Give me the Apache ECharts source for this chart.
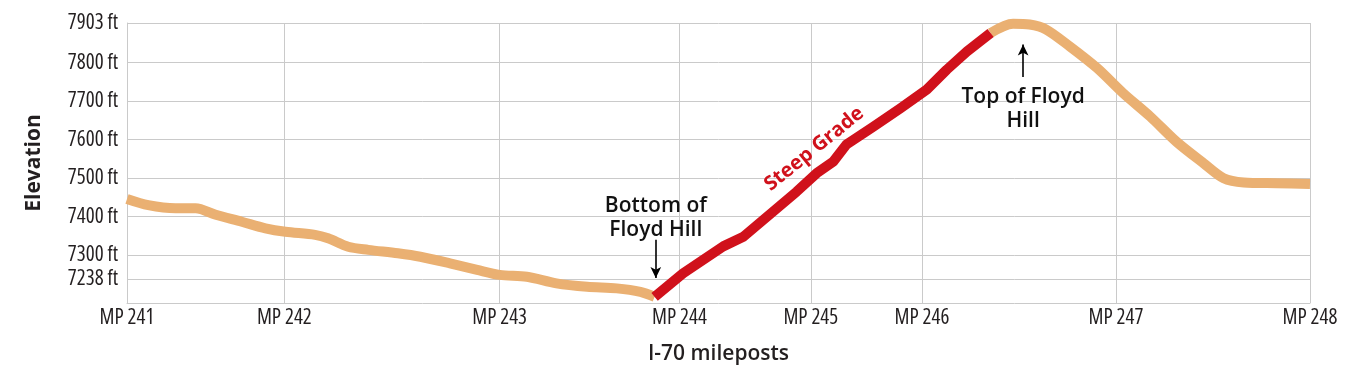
<!DOCTYPE html>
<html>
<head>
<meta charset="utf-8">
<script src="https://cdn.jsdelivr.net/npm/echarts@6/dist/echarts.min.js"></script>
<style>
  html, body { margin: 0; padding: 0; background: #ffffff; }
  #main { width: 1364px; height: 384px; }
</style>
</head>
<body>
<div id="main"></div>
<script>
// ---- Data (x = position along the profile, 0–100 % of the drawn route) ----
const mpLabels = ['MP 241', 'MP 242', 'MP 243', 'MP 244', 'MP 245', 'MP 246', 'MP 247', 'MP 248'];
const mpPositions = [0, 13.3, 31.5, 46.7, 57.8, 67.2, 83.6, 100];
const elevTicks = [7238, 7300, 7400, 7500, 7600, 7700, 7800, 7903];

const approachX    = [0, 1.8, 4.1, 5.8, 7.5, 9.7, 11.7, 13.4, 15.9, 17.0, 18.7, 20.4, 22.9, 24.8, 27.3, 29.6, 31.5, 33.8, 36.3, 38.9, 41.4, 43.4, 44.6];
const approachElev = [7446, 7430, 7422, 7422, 7405, 7387, 7370, 7361, 7353, 7344, 7322, 7314, 7305, 7296, 7279, 7262, 7249, 7244, 7227, 7218, 7214, 7205, 7192];

const steepX    = [44.6, 47.0, 50.4, 52.1, 54.6, 56.6, 58.3, 59.7, 60.8, 63.1, 65.4, 67.6, 69.3, 71.0, 73.0];
const steepElev = [7192, 7253, 7323, 7348, 7413, 7465, 7513, 7543, 7587, 7634, 7682, 7730, 7782, 7829, 7877];

const descentX    = [73.0, 74.9, 76.3, 77.7, 79.7, 82.0, 84.2, 86.5, 88.7, 91.0, 92.7, 94.4, 97.2, 100];
const descentElev = [7877, 7901, 7899, 7886, 7842, 7786, 7721, 7660, 7595, 7539, 7500, 7489, 7487, 7485];

const annotationTexts = ['Bottom of\nFloyd Hill', 'Top of Floyd\nHill', 'Steep Grade'];
const annotationX     = [44.7, 75.75, 58.1];
const annotationElev  = [7396, 7680, 7576];

const arrowX     = [44.7, 75.75];
const arrowFrom  = [7340, 7763];
const arrowTo    = [7241, 7847];

// ---- helpers ----
const zip = (xs, ys) => xs.map((x, i) => [x, ys[i]]);

// choose a condensed face for the tick labels
function pickCondensed() {
  const ctx = document.createElement('canvas').getContext('2d');
  const sample = 'MP 241';
  const stretchFams = ["'Open Sans'", "'Noto Sans'", "'DejaVu Sans'", "Roboto"];
  let best = null, bw = Infinity;
  for (const f of stretchFams) {
    ctx.font = '500 100px ' + f;
    const wn = ctx.measureText(sample).width;
    ctx.font = 'normal 500 condensed 100px ' + f;
    const wc = ctx.measureText(sample).width;
    if (wc < wn * 0.95 && wc < bw) { bw = wc; best = { family: f + ', sans-serif', weight: '500 condensed', w: wc }; }
  }
  if (!best) {
    const cands = ["'Liberation Sans Narrow'", "'DejaVu Sans Condensed'", "'Roboto Condensed'", "'Open Sans Condensed'", "Roboto", "Lato", "'Liberation Sans'"];
    for (const f of cands) {
      ctx.font = '100px ' + f + ', monospace';
      const w1 = ctx.measureText(sample).width;
      ctx.font = '100px ' + f + ', serif';
      const w2 = ctx.measureText(sample).width;
      if (Math.abs(w1 - w2) < 0.5 && w1 < bw) { bw = w1; best = { family: f + ', sans-serif', weight: 'normal', w: w1 }; }
    }
  }
  if (!best) best = { family: 'sans-serif', weight: 'normal', w: 340 };
  const size = Math.max(15, Math.min(21, 55 / best.w * 100));
  best.size = Math.round(size * 2) / 2;
  return best;
}
const cond = pickCondensed();
const BOLD = "'Open Sans', 'Noto Sans', sans-serif";
const GRID_COLOR = '#cacaca';
const ORANGE = '#EAB072';
const RED = '#D0111B';
const INK = '#231f20';

const chart = echarts.init(document.getElementById('main'), null, { renderer: 'canvas' });

const labelFont = { fontFamily: cond.family, fontStyle: 'normal', fontWeight: cond.weight, fontSize: cond.size, color: INK };

const option = {
  animation: false,
  backgroundColor: '#ffffff',
  grid: { left: 127, right: 54, top: 23, bottom: 81, containLabel: false },
  xAxis: {
    type: 'value',
    min: 0,
    max: 100,
    name: 'I-70 mileposts',
    nameLocation: 'middle',
    nameGap: 41,
    nameTextStyle: { fontFamily: BOLD, fontWeight: 600, fontSize: 21, color: INK },
    axisLine: { show: true, lineStyle: { color: GRID_COLOR, width: 1 } },
    axisTick: { show: false, customValues: mpPositions },
    axisLabel: Object.assign({
      customValues: mpPositions,
      formatter: (v) => { const i = mpPositions.indexOf(v); return i >= 0 ? mpLabels[i] : ''; },
      margin: 5
    }, labelFont),
    splitLine: { show: true, lineStyle: { color: GRID_COLOR, width: 1 } }
  },
  yAxis: {
    type: 'value',
    min: 7176,
    max: 7903,
    name: 'Elevation',
    nameLocation: 'middle',
    nameRotate: 90,
    nameGap: 82,
    nameTextStyle: { fontFamily: BOLD, fontWeight: 700, fontSize: 21, color: INK },
    axisLine: { show: true, lineStyle: { color: GRID_COLOR, width: 1 } },
    axisTick: { show: false, customValues: elevTicks },
    axisLabel: Object.assign({
      customValues: elevTicks,
      formatter: (v) => v + ' ft',
      margin: 9
    }, labelFont),
    splitLine: { show: true, lineStyle: { color: GRID_COLOR, width: 1 } }
  },
  series: [
    {
      name: 'approach', type: 'line', data: zip(approachX, approachElev),
      showSymbol: false, smooth: 0.3, clip: false, silent: true,
      lineStyle: { color: ORANGE, width: 10, cap: 'butt', join: 'round' },
      markLine: {
        silent: true, animation: false,
        symbol: ['none', 'arrow'], symbolSize: [8, 11],
        lineStyle: { color: '#000000', width: 1.6, type: 'solid', opacity: 1 },
        itemStyle: { color: '#000000' },
        label: { show: false },
        emphasis: { disabled: true },
        data: arrowX.map((x, i) => [
          { coord: [x, arrowFrom[i]] },
          { coord: [x, arrowTo[i]] }
        ])
      }
    },
    {
      name: 'descent', type: 'line', data: zip(descentX, descentElev),
      showSymbol: false, smooth: 0.3, clip: false, silent: true,
      lineStyle: { color: ORANGE, width: 10, cap: 'butt', join: 'round' }
    },
    {
      name: 'steep', type: 'line', data: zip(steepX, steepElev),
      showSymbol: false, smooth: false, clip: false, silent: true,
      lineStyle: { color: RED, width: 10, cap: 'butt', join: 'round' }
    }
  ]
};

chart.setOption(option);

const rotations = [0, 0, 39];
const colors = ['#111111', '#111111', RED];
const weights = [600, 600, 700];
const sizes = [21, 21, 20];
const graphics = annotationTexts.map((t, i) => {
  const p = chart.convertToPixel({ gridIndex: 0 }, [annotationX[i], annotationElev[i]]);
  return {
    type: 'text',
    x: p[0], y: p[1],
    rotation: rotations[i] * Math.PI / 180,
    silent: true,
    z: 10,
    style: {
      text: t,
      fill: colors[i],
      fontFamily: BOLD,
      fontWeight: weights[i],
      fontSize: sizes[i],
      lineHeight: 24,
      align: 'center',
      verticalAlign: 'middle'
    }
  };
});
chart.setOption({ graphic: graphics });
</script>
</body>
</html>
